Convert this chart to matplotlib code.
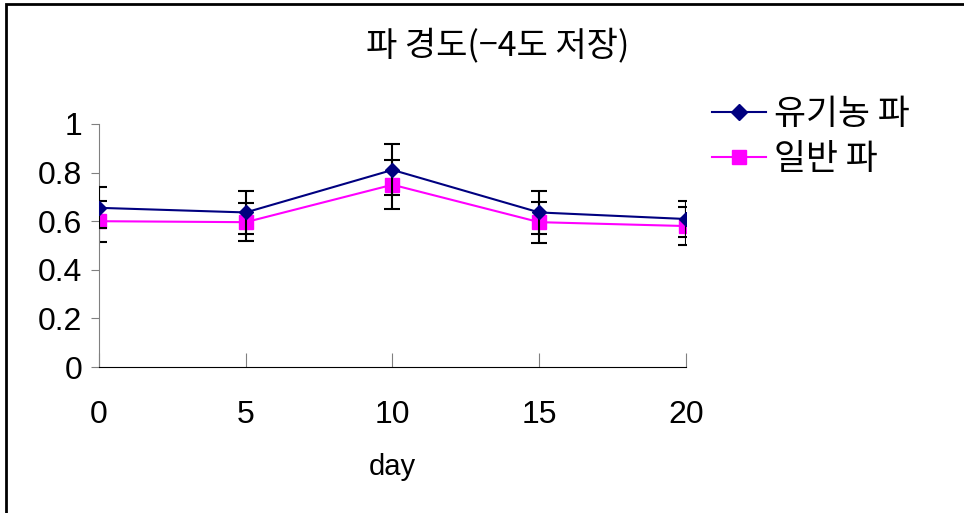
import numpy as np
import matplotlib.pyplot as plt
from matplotlib.patches import Rectangle
from matplotlib.lines import Line2D

plt.rcParams['font.family'] = ['Liberation Sans', 'Noto Sans CJK KR', 'DejaVu Sans']

days = [0, 5, 10, 15, 20]
organic = [0.655, 0.636, 0.811, 0.636, 0.609]
organic_err = [0.085, 0.09, 0.105, 0.09, 0.075]
normal = [0.60, 0.596, 0.75, 0.596, 0.58]
normal_err = [0.085, 0.077, 0.10, 0.084, 0.077]
yticks = [0, 0.2, 0.4, 0.6, 0.8, 1]
ylabels = ["0", "0.2", "0.4", "0.6", "0.8", "1"]
names = ["유기농 파", "일반 파"]

fig = plt.figure(figsize=(9.64, 5.13), dpi=100)
ax = fig.add_axes([0.1027, 0.2846, 0.6089, 0.4737])

ax.errorbar(days, organic, yerr=organic_err, color="#000080", marker="D",
            markersize=7, lw=1.5, ecolor="black", elinewidth=1.5, capsize=6,
            capthick=1.5, zorder=3)
ax.errorbar(days, normal, yerr=normal_err, color="#FF00FF", marker="s",
            markersize=9.5, lw=1.5, ecolor="black", elinewidth=1.5, capsize=6,
            capthick=1.5, zorder=2)

ax.set_xlim(0, 20)
ax.set_ylim(0, 1)
ax.set_xticks(days)
ax.set_yticks(yticks)
ax.set_yticklabels(ylabels)
ax.spines["top"].set_visible(False)
ax.spines["right"].set_visible(False)
ax.spines["left"].set_color("#808080")
ax.spines["bottom"].set_color("black")
ax.tick_params(axis="y", direction="out", length=6, colors="#808080",
               labelcolor="black", labelsize=23, pad=6)
ax.tick_params(axis="x", direction="in", length=10, colors="#808080",
               labelcolor="black", labelsize=23, pad=24)
ax.set_xlabel("day", fontsize=21, labelpad=16)

fig.text(0.516, 0.91, "파 경도(−4도 저장)", ha="center", va="center",
         fontsize=24.5, fontweight="medium", family=['Noto Sans CJK KR', 'DejaVu Sans'])

handles = [
    Line2D([], [], color="#000080", marker="D", markersize=8, lw=1.5),
    Line2D([], [], color="#FF00FF", marker="s", markersize=10, lw=1.5),
]
fig.legend(handles, names, loc="upper left", bbox_to_anchor=(0.706, 0.872),
           frameon=False,
           prop={'family': ['Noto Sans CJK KR', 'DejaVu Sans'], 'size': 25, 'weight': 'medium'},
           handlelength=1.55, handletextpad=0.25, labelspacing=0.3)

fig.patches.append(Rectangle((6 / 964, -0.1), 2, 1 - 4 / 513 + 0.1,
                             transform=fig.transFigure, fill=False,
                             edgecolor="black", lw=2))

fig.savefig("out.png", dpi=100)
